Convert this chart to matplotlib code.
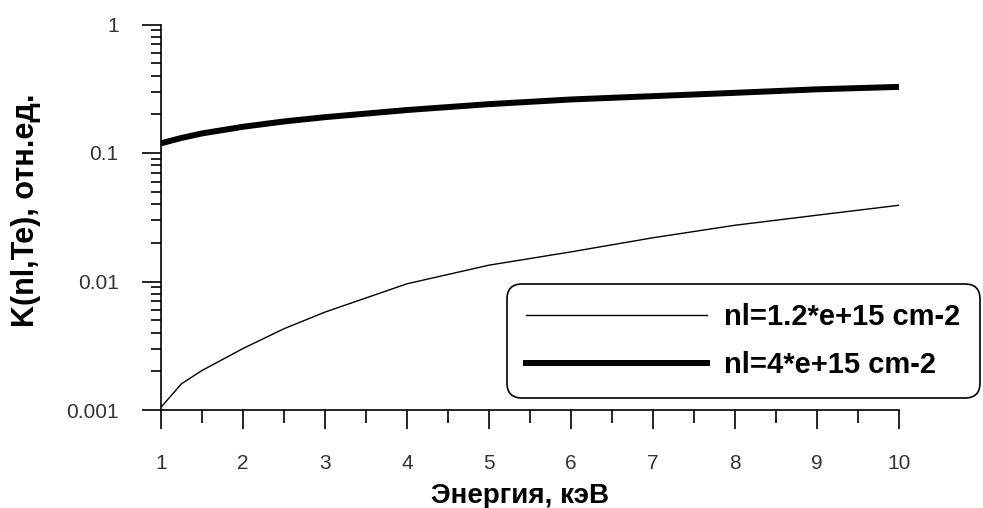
import numpy as np
import matplotlib
matplotlib.use("Agg")
import matplotlib.pyplot as plt

# энергия, кэВ
energia_fina = [1, 1.25, 1.5, 2, 2.5, 3, 4, 5, 6, 7, 8, 9, 10]
k_fina = [0.00105, 0.0016, 0.00203, 0.00301, 0.00429, 0.00578, 0.0096,
          0.0134, 0.0170, 0.0219, 0.0274, 0.0328, 0.0392]

energia_gruesa = [1, 1.25, 1.5, 2, 2.5, 3, 4, 5, 6, 7, 8, 9, 10]
k_gruesa = [0.119, 0.131, 0.142, 0.160, 0.176, 0.190, 0.216, 0.240, 0.261,
            0.277, 0.294, 0.313, 0.327]

etiqueta_fina = "nl=1.2*e+15 cm-2"
etiqueta_gruesa = "nl=4*e+15 cm-2"
xticks = [1, 2, 3, 4, 5, 6, 7, 8, 9, 10]
yticks = [0.001, 0.01, 0.1, 1]
yticklabels = ["0.001", "0.01", "0.1", "1"]

fig = plt.figure(figsize=(9.83, 5.08), dpi=100)
ax = fig.add_axes([161 / 983, 1 - 410 / 508, (899 - 161) / 983, (410 - 24.5) / 508])

ax.plot(energia_fina, k_fina, color="black", lw=1.0, label=etiqueta_fina)
ax.plot(energia_gruesa, k_gruesa, color="black", lw=4.3, label=etiqueta_gruesa)

ax.set_yscale("log")
ax.set_xlim(1, 10)
ax.set_ylim(0.001, 1)

ax.spines["top"].set_visible(False)
ax.spines["right"].set_visible(False)
ax.spines["left"].set_linewidth(1.2)
ax.spines["bottom"].set_linewidth(1.2)

ax.set_xticks(xticks)
ax.set_xticks(np.arange(1.5, 10, 1), minor=True)
ax.set_xticklabels([str(t) for t in xticks])
ax.set_yticks(yticks)
ax.set_yticklabels(yticklabels)

for lab in ax.get_xticklabels() + ax.get_yticklabels():
    lab.set_family("Liberation Sans")
    lab.set_fontsize(15)
    lab.set_color("#333333")

ax.tick_params(axis="x", which="major", direction="out", length=13.5, width=1.2, pad=18)
ax.tick_params(axis="x", which="minor", direction="out", length=9.5, width=1.2)
ax.tick_params(axis="y", which="major", direction="out", length=13.5, width=1.2, pad=17)
ax.tick_params(axis="y", which="minor", direction="out", length=7.5, width=1.2)
ax.yaxis.set_minor_formatter(matplotlib.ticker.NullFormatter())

ax.set_xlabel("Энергия, кэВ", fontsize=20, fontweight="bold", family="Liberation Sans")
ax.xaxis.set_label_coords(0.486, -0.19)
ax.set_ylabel("K(nl,Te), отн.ед.", fontsize=22, fontweight="bold", family="Liberation Sans")
ax.yaxis.set_label_coords(-0.163, 0.519)

leg = ax.legend(loc="upper left", bbox_to_anchor=(507 / 983, 1 - 284 / 508),
                bbox_transform=fig.transFigure, borderaxespad=0,
                prop={"family": "Liberation Sans", "weight": "bold", "size": 21},
                handlelength=6.2, handletextpad=0.6, borderpad=0.65,
                labelspacing=0.69, framealpha=1, fancybox=True)
marco = leg.get_frame()
marco.set_boxstyle("round", pad=0, rounding_size=0.5)
marco.set_edgecolor("black")
marco.set_linewidth(1.2)

fig.savefig("out.png", dpi=100)
